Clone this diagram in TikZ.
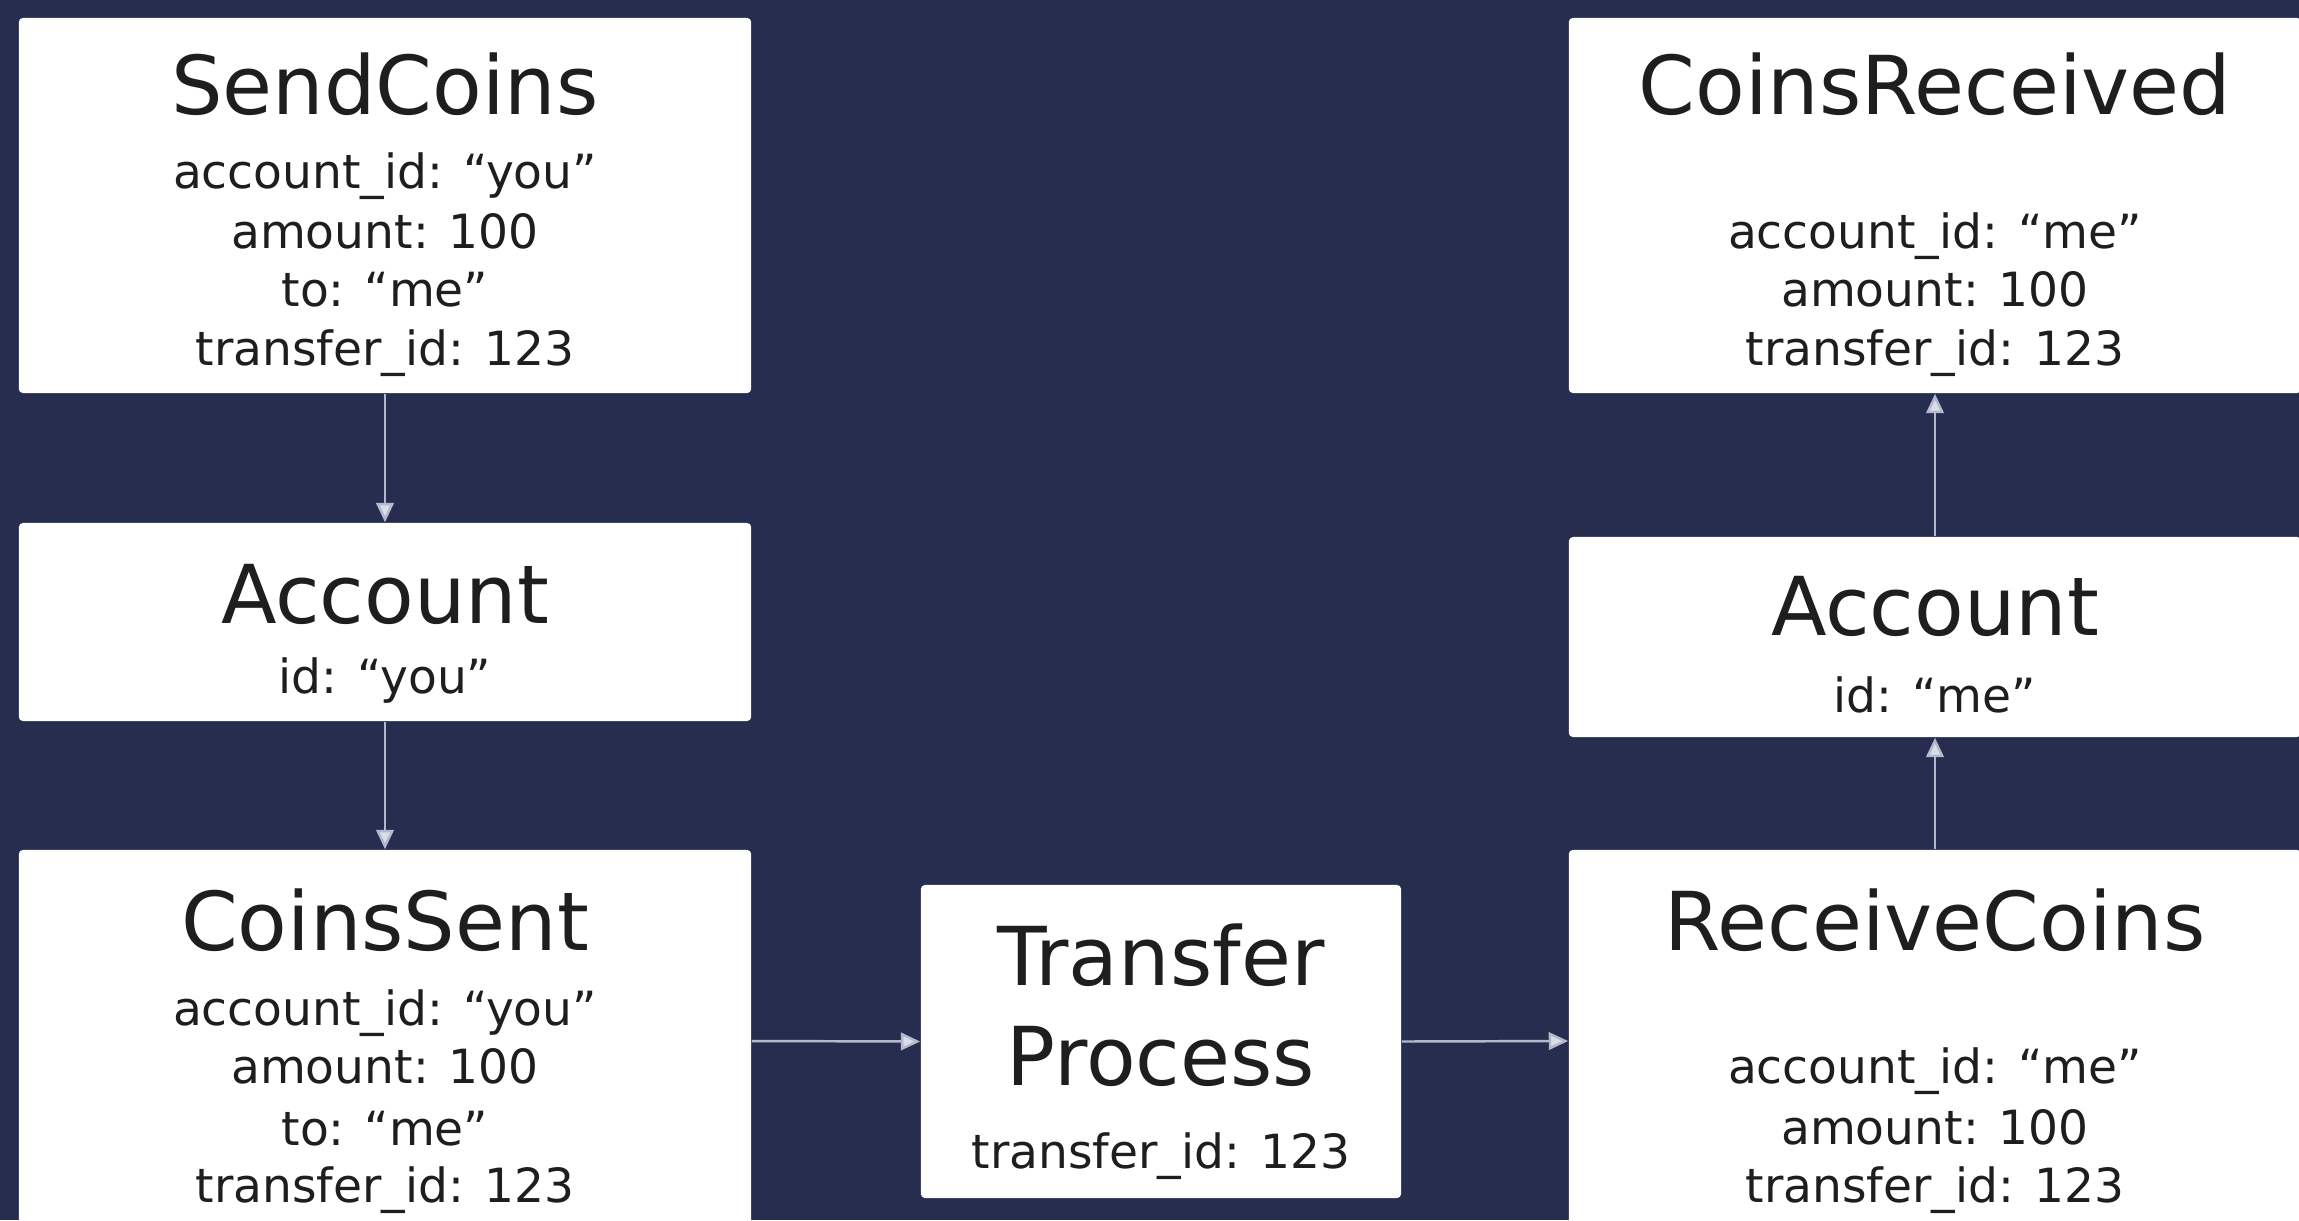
\documentclass[tikz,border=0pt]{standalone}
\usepackage{fontspec}
\setmainfont{DejaVu Sans}
\usetikzlibrary{arrows.meta}
\definecolor{bg}{HTML}{262D4F}
\definecolor{arrowc}{HTML}{B4B8CC}
\definecolor{tipc}{HTML}{DADCE8}
\definecolor{ink}{HTML}{1E1E1E}
\tikzset{
  card/.style={fill=white, draw=none, rounded corners=1.2pt, inner sep=0pt},
  ttl/.style={anchor=base, font=\fontsize{23.1}{27}\selectfont, text=ink, inner sep=0pt},
  fld/.style={anchor=base, font=\fontsize{13.4}{16}\selectfont, text=ink, inner sep=0pt},
  flow/.style={draw=arrowc, line width=0.7pt, -{Triangle[length=5.5pt,width=5pt,fill=tipc]}}
}
\begin{document}
\begin{tikzpicture}[x=0.01cm,y=-0.01cm]
\path[use as bounding box, clip] (0,0) rectangle (2299,1220);
\fill[bg] (0,0) rectangle (2299,1220);

% boxes
\node[card, minimum width=7.32cm, minimum height=3.75cm] (send) at (385,205.5) {};
\node[card, minimum width=7.32cm, minimum height=1.98cm] (accyou) at (385,622) {};
\node[card, minimum width=7.32cm, minimum height=3.82cm] (sent) at (385,1041) {};
\node[card, minimum width=4.80cm, minimum height=3.13cm] (proc) at (1161,1041.5) {};
\node[card, minimum width=7.32cm, minimum height=3.82cm] (recv) at (1935,1041) {};
\node[card, minimum width=7.32cm, minimum height=2.00cm] (accme) at (1935,637) {};
\node[card, minimum width=7.32cm, minimum height=3.75cm] (rcvd) at (1935,205.5) {};

% SendCoins
\node[ttl] (t1) at (385,114) {SendCoins};
\node[fld] (f11) at (385,188) {account\_id: “you”};
\node[fld] (f12) at (385,248) {amount: 100};
\node[fld] (f13) at (385,306) {to: “me”};
\node[fld] (f14) at (385,365) {transfer\_id: 123};

% Account you
\node[ttl] (t2) at (385,623) {Account};
\node[fld] (f21) at (385,693) {id: “you”};

% CoinsSent
\node[ttl] (t3) at (385,950) {CoinsSent};
\node[fld] (f31) at (385,1025) {account\_id: “you”};
\node[fld] (f32) at (385,1083) {amount: 100};
\node[fld] (f33) at (385,1145) {to: “me”};
\node[fld] (f34) at (385,1202) {transfer\_id: 123};

% Transfer Process
\node[ttl] (t4a) at (1161,985) {Transfer};
\node[ttl] (t4b) at (1161,1085) {Process};
\node[fld] (f41) at (1161,1168) {transfer\_id: 123};

% ReceiveCoins
\node[ttl] (t5) at (1935,950) {ReceiveCoins};
\node[fld] (f51) at (1935,1083) {account\_id: “me”};
\node[fld] (f52) at (1935,1144) {amount: 100};
\node[fld] (f53) at (1935,1202) {transfer\_id: 123};

% Account me
\node[ttl] (t6) at (1935,635) {Account};
\node[fld] (f61) at (1935,712) {id: “me”};

% CoinsReceived
\node[ttl] (t7) at (1935,114) {CoinsReceived};
\node[fld] (f71) at (1935,248) {account\_id: “me”};
\node[fld] (f72) at (1935,306) {amount: 100};
\node[fld] (f73) at (1935,365) {transfer\_id: 123};

% connectors
\draw[flow] (send.south) -- (accyou.north);
\draw[flow] (accyou.south) -- (sent.north);
\draw[flow] (sent.east) -- (proc.west);
\draw[flow] (proc.east) -- (recv.west);
\draw[flow] (recv.north) -- (accme.south);
\draw[flow] (accme.north) -- (rcvd.south);
\end{tikzpicture}
\end{document}
